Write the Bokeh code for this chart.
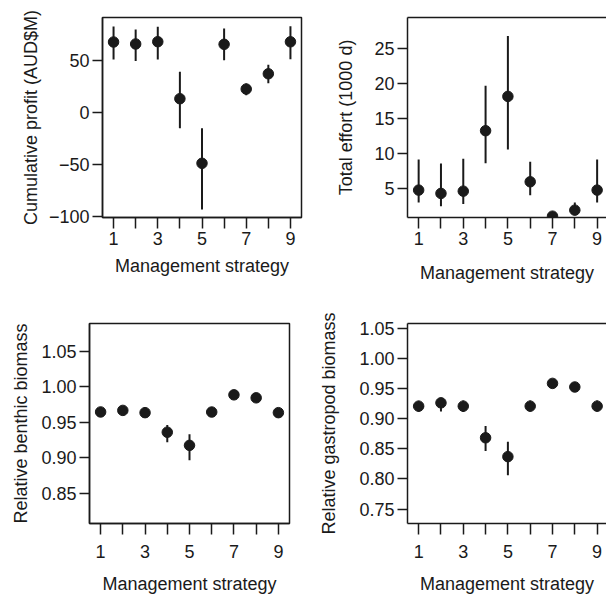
from bokeh.plotting import figure
from bokeh.models import Range1d, FixedTicker, CustomJSTickFormatter, LinearAxis, ColumnDataSource
from bokeh.layouts import column, row
from bokeh.embed import file_html
from bokeh.resources import INLINE

# ---- data ----
strategies = [1, 2, 3, 4, 5, 6, 7, 8, 9]
x_tick_labels = ["1", "", "3", "", "5", "", "7", "", "9"]

profit_mean = [68.2, 66.3, 68.5, 13.6, -48.6, 66.0, 22.9, 37.6, 68.4]
profit_low = [51.3, 50.0, 51.3, -14.8, -93.0, 50.6, 17.0, 28.5, 51.6]
profit_high = [83.2, 80.3, 83.0, 39.5, -14.8, 81.3, 28.2, 46.3, 83.3]

effort_mean = [4.76, 4.29, 4.61, 13.24, 18.14, 5.95, 1.04, 1.9, 4.76]
effort_low = [3.0, 2.47, 2.76, 8.6, 10.57, 4.04, 0.85, 1.2, 3.0]
effort_high = [9.14, 8.57, 9.23, 19.67, 26.76, 8.8, 1.3, 3.0, 9.14]

benthic_mean = [0.9645, 0.9667, 0.9635, 0.936, 0.9175, 0.9644, 0.9886, 0.9844, 0.9635]
benthic_low = [0.959, 0.961, 0.958, 0.922, 0.8965, 0.959, 0.985, 0.980, 0.958]
benthic_high = [0.969, 0.971, 0.968, 0.946, 0.933, 0.969, 0.992, 0.988, 0.968]

gastropod_mean = [0.9208, 0.9263, 0.9208, 0.8683, 0.837, 0.9208, 0.9586, 0.9526, 0.9208]
gastropod_low = [0.9115, 0.912, 0.911, 0.8464, 0.8059, 0.912, 0.955, 0.949, 0.912]
gastropod_high = [0.9296, 0.933, 0.930, 0.888, 0.8617, 0.930, 0.962, 0.956, 0.930]

profit_ticks = [-100, -50, 0, 50]
effort_ticks = [5, 10, 15, 20, 25]
benthic_ticks = [0.85, 0.90, 0.95, 1.00, 1.05]
gastropod_ticks = [0.75, 0.80, 0.85, 0.90, 0.95, 1.00, 1.05]

FONT = "Liberation Sans"
FS = "18px"
INK = "#1a1a1a"

X_FMT = CustomJSTickFormatter(
    args=dict(labels=x_tick_labels, cats=strategies),
    code="const i = cats.indexOf(Math.round(tick)); return i >= 0 ? labels[i] : '';")
MINUS_FMT = "return tick < 0 ? '\\u2212' + Math.abs(tick) : String(tick);"
DEC2_FMT = "return tick.toFixed(2);"


def panel(width, height, mean, low, high, y_range, y_ticks, y_label, y_code,
          b_left, b_right, b_top, b_bottom, x_end, boxed,
          ylab_standoff, xtick_standoff, xlab_standoff):
    p = figure(width=width, height=height, output_backend="svg", toolbar_location=None,
               x_range=Range1d(0.5, x_end), y_range=Range1d(*y_range),
               min_border_left=b_left, min_border_right=b_right,
               min_border_top=b_top, min_border_bottom=b_bottom)
    p.background_fill_color = "white"
    p.border_fill_color = "white"
    p.xgrid.visible = False
    p.ygrid.visible = False

    src = ColumnDataSource(dict(x=strategies, m=mean, lo=low, hi=high))
    p.segment(x0="x", y0="lo", x1="x", y1="hi", source=src, line_color=INK, line_width=2)
    p.scatter(x="x", y="m", source=src, size=10.5, fill_color=INK, line_color=INK)

    xa = p.below[0]
    ya = p.left[0]
    for ax in (xa, ya):
        ax.axis_line_color = INK
        ax.axis_line_width = 1.5
        ax.major_tick_line_color = INK
        ax.major_tick_line_width = 1.5
        ax.major_tick_in = 0
        ax.minor_tick_line_color = None
        ax.major_label_text_font = FONT
        ax.major_label_text_font_size = FS
        ax.major_label_text_color = INK
        ax.axis_label_text_font = FONT
        ax.axis_label_text_font_size = FS
        ax.axis_label_text_font_style = "normal"
        ax.axis_label_text_color = INK

    xa.ticker = FixedTicker(ticks=strategies)
    xa.formatter = X_FMT
    xa.axis_label = "Management strategy"
    xa.major_tick_out = 11
    xa.major_label_standoff = xtick_standoff
    xa.axis_label_standoff = xlab_standoff

    ya.ticker = FixedTicker(ticks=y_ticks)
    ya.formatter = CustomJSTickFormatter(code=y_code)
    ya.axis_label = y_label
    ya.major_tick_out = 10
    ya.major_label_standoff = 3
    ya.major_label_orientation = "horizontal"
    ya.axis_label_standoff = ylab_standoff

    if boxed:
        p.outline_line_color = INK
        p.outline_line_width = 1.5
    else:
        p.outline_line_color = None
        top = LinearAxis(ticker=FixedTicker(ticks=[]), major_tick_out=0, major_tick_in=0,
                         major_label_standoff=0, axis_label_standoff=0,
                         major_label_text_font_size="0px",
                         axis_line_color=INK, axis_line_width=1.5,
                         major_tick_line_color=None, minor_tick_line_color=None)
        p.add_layout(top, "above")
    return p


p1 = panel(303, 298, profit_mean, profit_low, profit_high, (-100.8, 91.8), profit_ticks,
           "Cumulative profit (AUD$M)", MINUS_FMT,
           102, 2, 17, 81, 9.5, True, 5, 3, 8)
p2 = panel(303, 298, effort_mean, effort_low, effort_high, (0.85, 29.4), effort_ticks,
           "Total effort (1000 d)", "return String(tick);",
           104, 0, 17, 81, 9.42, False, 15, 3, 15)
p3 = panel(303, 298, benthic_mean, benthic_low, benthic_high, (0.8075, 1.089), benthic_ticks,
           "Relative benthic biomass", DEC2_FMT,
           89, 14, 25, 73, 9.5, True, 7, 10, 13)
p4 = panel(303, 298, gastropod_mean, gastropod_low, gastropod_high, (0.726, 1.058), gastropod_ticks,
           "Relative gastropod biomass", DEC2_FMT,
           104, 0, 25, 73, 9.42, False, 17, 10, 13)

layout = column(row(p1, p2), row(p3, p4))

open("out.html", "w").write(file_html(layout, INLINE))
